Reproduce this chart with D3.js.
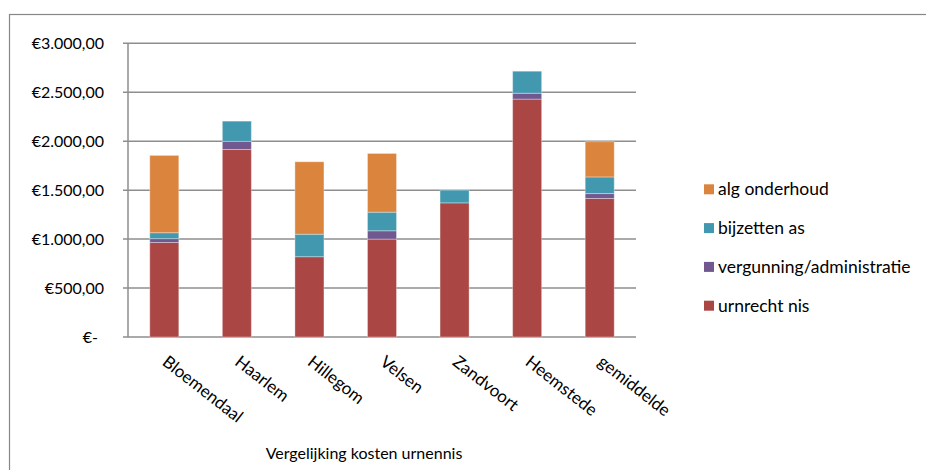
<!DOCTYPE html>
<head>
  <title>Vergelijking kosten urnennis</title>
  <style>
    body { margin: 0; background: #fff; }
    text { font-family: Lato, "Open Sans", sans-serif; fill: #000; }
  </style>
</head>
<body>
  <script src="https://cdn.jsdelivr.net/npm/d3@7"></script>
  <script>
    // data
    var categories = ["Bloemendaal", "Haarlem", "Hillegom", "Velsen", "Zandvoort", "Heemstede", "gemiddelde"];
    var urnrechtNis = [965, 1915, 820, 1000, 1370, 2430, 1415];
    var vergunning = [40, 83, 0, 85, 0, 60, 50];
    var bijzettenAs = [60, 207, 230, 190, 130, 225, 170];
    var algOnderhoud = [790, 0, 740, 600, 0, 0, 360];
    var seriesNames = ["urnrecht nis", "vergunning/administratie", "bijzetten as", "alg onderhoud"];
    var seriesColors = ["#AA4643", "#71588F", "#4198AF", "#DB843D"];
    var yTicks = [0, 500, 1000, 1500, 2000, 2500, 3000];
    var yTickLabels = ["€-", "€500,00", "€1.000,00", "€1.500,00", "€2.000,00", "€2.500,00", "€3.000,00"];
    var xTitle = "Vergelijking kosten urnennis";

    var w = 926, h = 470;
    var plotLeft = 128, plotRight = 636, plotTop = 43.3, plotBottom = 337;

    var rows = categories.map(function (c, i) {
      return { cat: c, s0: urnrechtNis[i], s1: vergunning[i], s2: bijzettenAs[i], s3: algOnderhoud[i] };
    });
    var keys = ["s0", "s1", "s2", "s3"];
    var stacked = d3.stack().keys(keys)(rows);

    var svg = d3.select("body").append("svg")
      .attr("width", w)
      .attr("height", h);

    // outer chart frame (runs off the right and bottom edge)
    svg.append("rect")
      .attr("x", 9.5).attr("y", 14.5)
      .attr("width", 1000).attr("height", 1000)
      .attr("fill", "none")
      .attr("stroke", "#868686")
      .attr("stroke-width", 1.2);

    var x = d3.scaleBand()
      .domain(categories)
      .range([plotLeft, plotRight])
      .paddingInner(0.6)
      .paddingOuter(0.3);

    var y = d3.scaleLinear()
      .domain([0, 3000])
      .range([plotBottom, plotTop]);

    // gridlines + ticks
    svg.append("g")
      .selectAll("line")
      .data(yTicks)
      .enter()
      .append("line")
      .attr("x1", plotLeft - 5)
      .attr("x2", plotRight)
      .attr("y1", function (d) { return y(d); })
      .attr("y2", function (d) { return y(d); })
      .attr("stroke", "#8e8e8e")
      .attr("stroke-width", 1.5);

    svg.append("line")
      .attr("x1", plotLeft).attr("x2", plotLeft)
      .attr("y1", plotTop).attr("y2", plotBottom)
      .attr("stroke", "#8e8e8e")
      .attr("stroke-width", 1.5);

    svg.append("g")
      .selectAll("text")
      .data(yTicks)
      .enter()
      .append("text")
      .attr("x", function (d) { return d === 0 ? 98 : 104; })
      .attr("y", function (d) { return y(d); })
      .attr("dy", "0.35em")
      .attr("text-anchor", "end")
      .style("font-size", "16px")
      .text(function (d, i) { return yTickLabels[i]; });

    // bars
    svg.append("g")
      .selectAll("g")
      .data(stacked)
      .enter()
      .append("g")
      .attr("fill", function (d, i) { return seriesColors[i]; })
      .selectAll("rect")
      .data(function (d) { return d.filter(function (p) { return p[1] > p[0]; }); })
      .enter()
      .append("rect")
      .attr("x", function (d) { return x(d.data.cat); })
      .attr("width", x.bandwidth())
      .attr("y", function (d) { return y(d[1]); })
      .attr("height", function (d) { return y(d[0]) - y(d[1]); })
      .attr("stroke", "#fff")
      .attr("stroke-opacity", 0.35)
      .attr("stroke-width", 1);

    // x category labels, rotated
    svg.append("g")
      .selectAll("text")
      .data(categories)
      .enter()
      .append("text")
      .attr("transform", function (d) {
        return "translate(" + (x(d) + x.bandwidth() / 2 - 3) + ",364) rotate(38)";
      })
      .attr("text-anchor", "start")
      .style("font-size", "17px")
      .text(function (d) { return d; });

    svg.append("text")
      .attr("x", 364)
      .attr("y", 459)
      .attr("text-anchor", "middle")
      .style("font-size", "16px")
      .text(xTitle);

    // legend, top entry is last series
    var legend = svg.append("g")
      .selectAll("g")
      .data(seriesNames.slice().reverse())
      .enter()
      .append("g")
      .attr("transform", function (d, i) { return "translate(704," + (189.3 + i * 38.8) + ")"; });

    legend.append("rect")
      .attr("x", 0).attr("y", -5)
      .attr("width", 10).attr("height", 10)
      .attr("fill", function (d, i) { return seriesColors[3 - i]; });

    legend.append("text")
      .attr("x", 14)
      .attr("dy", "0.35em")
      .style("font-size", "17.5px")
      .text(function (d) { return d; });
  </script>
</body>
